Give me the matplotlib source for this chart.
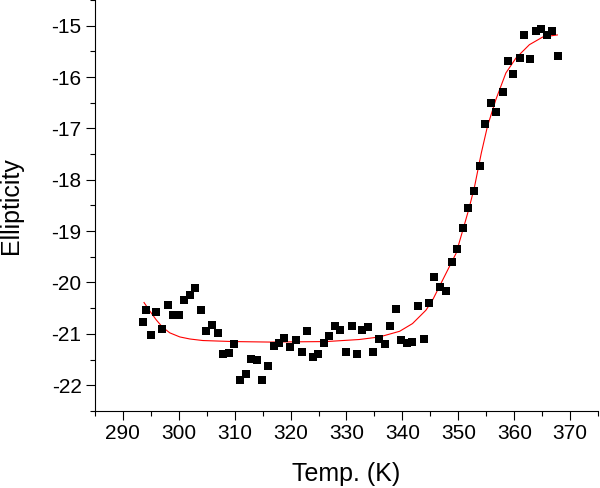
import numpy as np
import matplotlib.pyplot as plt
from matplotlib.ticker import MultipleLocator

plt.rcParams['font.family'] = ['Liberation Sans', 'DejaVu Sans']
plt.rcParams['axes.unicode_minus'] = False

# measured points (temperature in K, ellipticity)
temp = [293.6, 294.1, 295.1, 296.0, 297.1, 298.0, 299.0, 300.1, 301.0, 302.0,
        303.0, 304.0, 304.9, 305.9, 307.0, 307.9, 309.0, 309.9, 311.0, 312.0,
        313.0, 314.0, 314.9, 315.9, 317.0, 317.9, 318.9, 319.9, 321.0, 322.0,
        323.0, 324.0, 324.9, 325.9, 326.9, 328.0, 328.9, 330.0, 330.9, 331.8,
        332.8, 333.8, 334.8, 335.8, 336.8, 337.8, 338.8, 339.8, 340.8, 341.7,
        342.8, 343.8, 344.8, 345.7, 346.7, 347.8, 348.8, 349.7, 350.9, 351.8,
        352.8, 353.8, 354.8, 355.8, 356.8, 357.9, 358.9, 359.8, 361.0, 361.8,
        362.8, 363.8, 364.8, 365.8, 366.8, 367.8]
ellip = [-20.76, -20.54, -21.02, -20.57, -20.91, -20.44, -20.63, -20.63, -20.35, -20.24,
         -20.10, -20.54, -20.94, -20.83, -20.98, -21.39, -21.37, -21.20, -21.89, -21.79,
         -21.48, -21.51, -21.90, -21.63, -21.24, -21.17, -21.09, -21.25, -21.12, -21.35,
         -20.95, -21.45, -21.39, -21.17, -21.04, -20.84, -20.93, -21.35, -20.85, -21.39,
         -20.93, -20.86, -21.36, -21.10, -21.19, -20.85, -20.52, -21.12, -21.17, -21.16,
         -20.45, -21.10, -20.39, -19.90, -20.08, -20.16, -19.61, -19.35, -18.94, -18.55,
         -18.21, -17.74, -16.92, -16.50, -16.68, -16.30, -15.68, -15.94, -15.62, -15.18,
         -15.65, -15.11, -15.06, -15.19, -15.11, -15.60]

# fitted curve
fit_t = [293.8, 294.8, 296.0, 297.1, 298.4, 300.2, 302.0, 304.3, 309.7, 316.3,
         326.4, 332.3, 335.9, 339.5, 341.8, 344.2, 345.4, 346.0, 347.8, 348.4,
         349.6, 350.8, 351.9, 352.9, 354.1, 355.2, 356.7, 358.5, 360.3, 362.7,
         365.1, 367.7]
fit_e = [-20.39, -20.55, -20.73, -20.87, -20.98, -21.06, -21.10, -21.13, -21.15, -21.16,
         -21.15, -21.11, -21.06, -20.95, -20.80, -20.54, -20.34, -20.21, -19.82, -19.69,
         -19.43, -18.98, -18.56, -18.13, -17.48, -16.96, -16.44, -15.92, -15.63, -15.37,
         -15.22, -15.18]

fig = plt.figure(figsize=(6, 4.88), dpi=100)
ax = fig.add_axes([0.158, 0.158, 0.839, 0.842])

ax.plot(fit_t, fit_e, color='red', lw=0.8, zorder=2)
ax.scatter(temp, ellip, marker='s', s=34, color='black', linewidths=0, zorder=3)

ax.set_xlim(285, 375)
ax.set_ylim(-22.5, -14.5)
ax.xaxis.set_major_locator(MultipleLocator(10))
ax.xaxis.set_minor_locator(MultipleLocator(5))
ax.yaxis.set_major_locator(MultipleLocator(1))
ax.yaxis.set_minor_locator(MultipleLocator(0.5))

for s in ['top', 'right']:
    ax.spines[s].set_visible(False)
for s in ['left', 'bottom']:
    ax.spines[s].set_linewidth(0.8)

ax.tick_params(which='major', direction='out', length=6.5, width=0.8,
               labelsize=15, pad=3)
ax.tick_params(which='minor', direction='out', length=3.5, width=0.8)

ax.set_xlabel('Temp. (K)', fontsize=18)
ax.set_ylabel('Ellipticity', fontsize=18)
ax.xaxis.set_label_coords(0.5, -0.125)
ax.yaxis.set_label_coords(-0.143, 0.5)

fig.savefig('out.png', dpi=100)
